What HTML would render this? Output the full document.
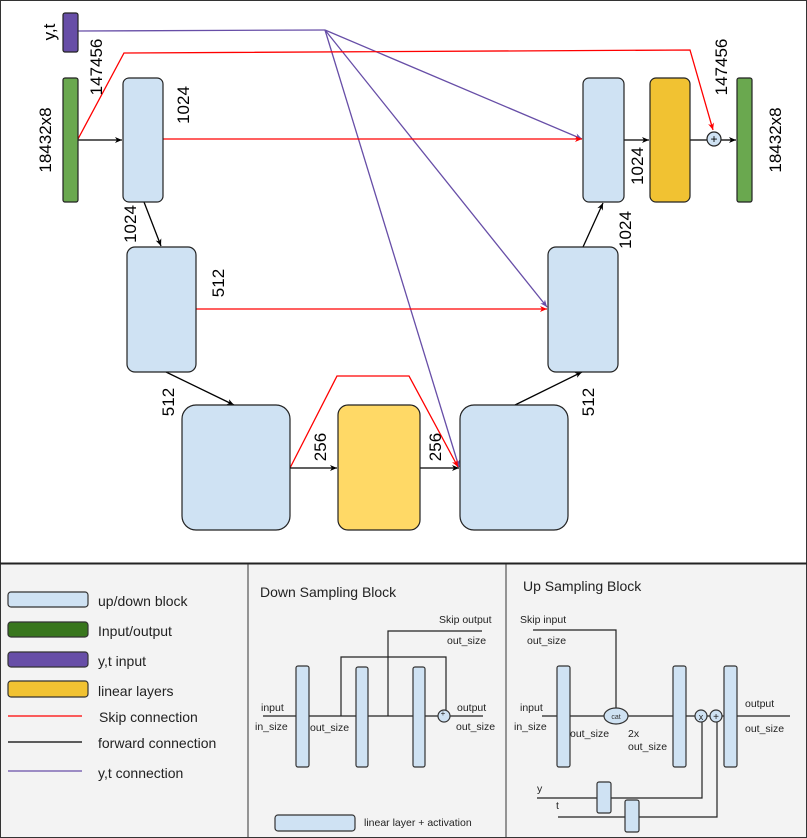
<!DOCTYPE html>
<html><head><meta charset="utf-8"><style>
html,body{margin:0;padding:0;background:#fff}
svg{display:block;font-family:"Liberation Sans",Arial,sans-serif}
</style></head><body>
<svg width="807" height="838" viewBox="0 0 807 838" xmlns="http://www.w3.org/2000/svg">
<defs>
<marker id="ab" markerWidth="8" markerHeight="8" refX="7" refY="4" orient="auto" markerUnits="userSpaceOnUse"><path d="M0,1 L7,4 L0,7 L2,4 z" fill="#000"/></marker>
<marker id="ar" markerWidth="8" markerHeight="8" refX="7" refY="4" orient="auto" markerUnits="userSpaceOnUse"><path d="M0,1 L7,4 L0,7 L2,4 z" fill="#f00"/></marker>
<marker id="ap" markerWidth="8" markerHeight="8" refX="7" refY="4" orient="auto" markerUnits="userSpaceOnUse"><path d="M0,1 L7,4 L0,7 L2,4 z" fill="#674ea7"/></marker>
</defs>
<rect x="0.5" y="0.5" width="806" height="837" fill="#fff" stroke="#333"/>
<rect x="1" y="564" width="805" height="273" fill="#f3f3f3"/>
<line x1="0" y1="563.5" x2="807" y2="563.5" stroke="#222" stroke-width="2"/>
<line x1="248" y1="564" x2="248" y2="838" stroke="#333"/>
<line x1="506" y1="564" x2="506" y2="838" stroke="#333"/>

<g fill="none" stroke-width="1.3">
<polyline points="78,31 325,30" stroke="#674ea7"/>
<line x1="325" y1="30" x2="582" y2="139" stroke="#674ea7" marker-end="url(#ap)"/>
<line x1="325" y1="30" x2="547" y2="307" stroke="#674ea7" marker-end="url(#ap)"/>
<line x1="325" y1="30" x2="459" y2="467" stroke="#674ea7" marker-end="url(#ap)"/>
<polyline points="78,139 124,53 690,50 713,130" stroke="#f00" marker-end="url(#ar)"/>
<line x1="163" y1="139" x2="582" y2="139" stroke="#f00" marker-end="url(#ar)"/>
<line x1="196" y1="309" x2="547" y2="309" stroke="#f00" marker-end="url(#ar)"/>
<polyline points="290,468 337,376 409,376 458,467" stroke="#f00" marker-end="url(#ar)"/>
<g stroke="#000">
<line x1="78" y1="140" x2="122" y2="140" marker-end="url(#ab)"/>
<line x1="144" y1="202" x2="161" y2="246" marker-end="url(#ab)"/>
<line x1="166" y1="372" x2="234" y2="405" marker-end="url(#ab)"/>
<line x1="290" y1="468" x2="337" y2="468" marker-end="url(#ab)"/>
<line x1="420" y1="468" x2="459" y2="468" marker-end="url(#ab)"/>
<line x1="515" y1="405" x2="582" y2="372" marker-end="url(#ab)"/>
<line x1="583" y1="247" x2="603" y2="203" marker-end="url(#ab)"/>
<line x1="624" y1="140" x2="649" y2="140" marker-end="url(#ab)"/>
<line x1="690" y1="140" x2="707" y2="140"/>
<line x1="721" y1="140" x2="736" y2="140" marker-end="url(#ab)"/>
</g>
</g>

<g stroke="#222" stroke-width="1.2">
<rect x="63" y="13" width="15" height="39" rx="2" fill="#674ea7"/>
<rect x="63" y="78" width="15" height="124" rx="2" fill="#6aa84f"/>
<rect x="123" y="78" width="40" height="124" rx="6" fill="#cfe2f3"/>
<rect x="127" y="247" width="69" height="125" rx="8" fill="#cfe2f3"/>
<rect x="182" y="405" width="108" height="125" rx="14" fill="#cfe2f3"/>
<rect x="338" y="405" width="82" height="125" rx="10" fill="#ffd966"/>
<rect x="460" y="405" width="108" height="125" rx="14" fill="#cfe2f3"/>
<rect x="548" y="247" width="70" height="125" rx="8" fill="#cfe2f3"/>
<rect x="583" y="78" width="41" height="124" rx="6" fill="#cfe2f3"/>
<rect x="650" y="78" width="40" height="124" rx="6" fill="#f1c232"/>
<rect x="737" y="78" width="15" height="124" rx="2" fill="#6aa84f"/>
<circle cx="714" cy="139" r="7" fill="#cfe2f3"/>
</g>
<text x="714" y="143" font-size="12" text-anchor="middle">+</text>

<g font-size="17" text-anchor="middle" fill="#000">
<text transform="translate(55,32) rotate(-90)">y,t</text>
<text transform="translate(102,67) rotate(-90)">147456</text>
<text transform="translate(51,140) rotate(-90)">18432x8</text>
<text transform="translate(189,105) rotate(-90)">1024</text>
<text transform="translate(136,224) rotate(-90)">1024</text>
<text transform="translate(224,283) rotate(-90)">512</text>
<text transform="translate(174,402) rotate(-90)">512</text>
<text transform="translate(326,447) rotate(-90)">256</text>
<text transform="translate(441,447) rotate(-90)">256</text>
<text transform="translate(594,402) rotate(-90)">512</text>
<text transform="translate(631,230) rotate(-90)">1024</text>
<text transform="translate(643,166) rotate(-90)">1024</text>
<text transform="translate(727,67) rotate(-90)">147456</text>
<text transform="translate(781,140) rotate(-90)">18432x8</text>
</g>

<g stroke="#333" stroke-width="1.2">
<rect x="8" y="592" width="80" height="15" rx="3" fill="#cfe2f3"/>
<rect x="8" y="622" width="80" height="15" rx="3" fill="#38761d"/>
<rect x="8" y="652" width="80" height="15" rx="3" fill="#674ea7"/>
<rect x="8" y="681" width="80" height="16" rx="3" fill="#f1c232"/>
</g>
<line x1="8" y1="716" x2="82" y2="716" stroke="#f00" stroke-width="1.3"/>
<line x1="8" y1="742" x2="82" y2="742" stroke="#000" stroke-width="1.3"/>
<line x1="8" y1="771" x2="82" y2="771" stroke="#674ea7" stroke-width="1.3"/>
<g font-size="14" fill="#222">
<text x="98" y="606">up/down block</text>
<text x="98" y="636">Input/output</text>
<text x="98" y="666">y,t input</text>
<text x="98" y="696">linear layers</text>
<text x="99" y="722">Skip connection</text>
<text x="98" y="748">forward connection</text>
<text x="98" y="778">y,t connection</text>
</g>

<text x="260" y="597" font-size="14" fill="#222">Down Sampling Block</text>
<g fill="none" stroke="#222" stroke-width="1.2">
<line x1="263" y1="716" x2="438" y2="716"/>
<line x1="450" y1="716" x2="483" y2="716"/>
<polyline points="341,716 341,657 446,657 446,710"/>
<polyline points="388,716 388,631 482,631"/>
</g>
<g stroke="#333" stroke-width="1.2" fill="#cfe2f3">
<rect x="296" y="666" width="13" height="101" rx="2"/>
<rect x="356" y="667" width="12" height="100" rx="2"/>
<rect x="413" y="667" width="12" height="100" rx="2"/>
<circle cx="444" cy="716" r="6"/>
<rect x="275" y="815" width="80" height="16" rx="3"/>
</g>
<text x="443" y="716" font-size="8" text-anchor="middle" fill="#222">+</text>
<g font-size="10.5" fill="#222">
<text x="439" y="623">Skip output</text>
<text x="447" y="644">out_size</text>
<text x="261" y="711">input</text>
<text x="255" y="730">in_size</text>
<text x="310" y="731">out_size</text>
<text x="457" y="711">output</text>
<text x="456" y="730">out_size</text>
<text x="364" y="826">linear layer + activation</text>
</g>

<text x="523" y="591" font-size="14" fill="#222">Up Sampling Block</text>
<g fill="none" stroke="#222" stroke-width="1.2">
<line x1="542" y1="716" x2="790" y2="716"/>
<polyline points="533,630 616,630 616,708"/>
<polyline points="537,798 702,798 702,722"/>
<polyline points="558,817 717,817 717,722"/>
</g>
<g stroke="#333" stroke-width="1.2" fill="#cfe2f3">
<rect x="557" y="666" width="13" height="101" rx="2"/>
<rect x="673" y="666" width="13" height="101" rx="2"/>
<rect x="724" y="666" width="13" height="101" rx="2"/>
<ellipse cx="616" cy="716" rx="12" ry="8"/>
<circle cx="701" cy="716" r="6"/>
<circle cx="716" cy="716" r="6"/>
<rect x="597" y="782" width="14" height="31" rx="2"/>
<rect x="625" y="800" width="14" height="32" rx="2"/>
</g>
<text x="616" y="719" font-size="7" text-anchor="middle" fill="#333">cat</text>
<text x="701" y="720" font-size="9" text-anchor="middle" fill="#222">x</text>
<text x="716" y="720" font-size="10" text-anchor="middle" fill="#222">+</text>
<g font-size="10.5" fill="#222">
<text x="520" y="623">Skip input</text>
<text x="527" y="644">out_size</text>
<text x="520" y="711">input</text>
<text x="514" y="730">in_size</text>
<text x="570" y="737">out_size</text>
<text x="628" y="737">2x</text>
<text x="628" y="750">out_size</text>
<text x="745" y="707">output</text>
<text x="745" y="732">out_size</text>
<text x="537" y="792">y</text>
<text x="556" y="809">t</text>
</g>
</svg>
</body></html>
